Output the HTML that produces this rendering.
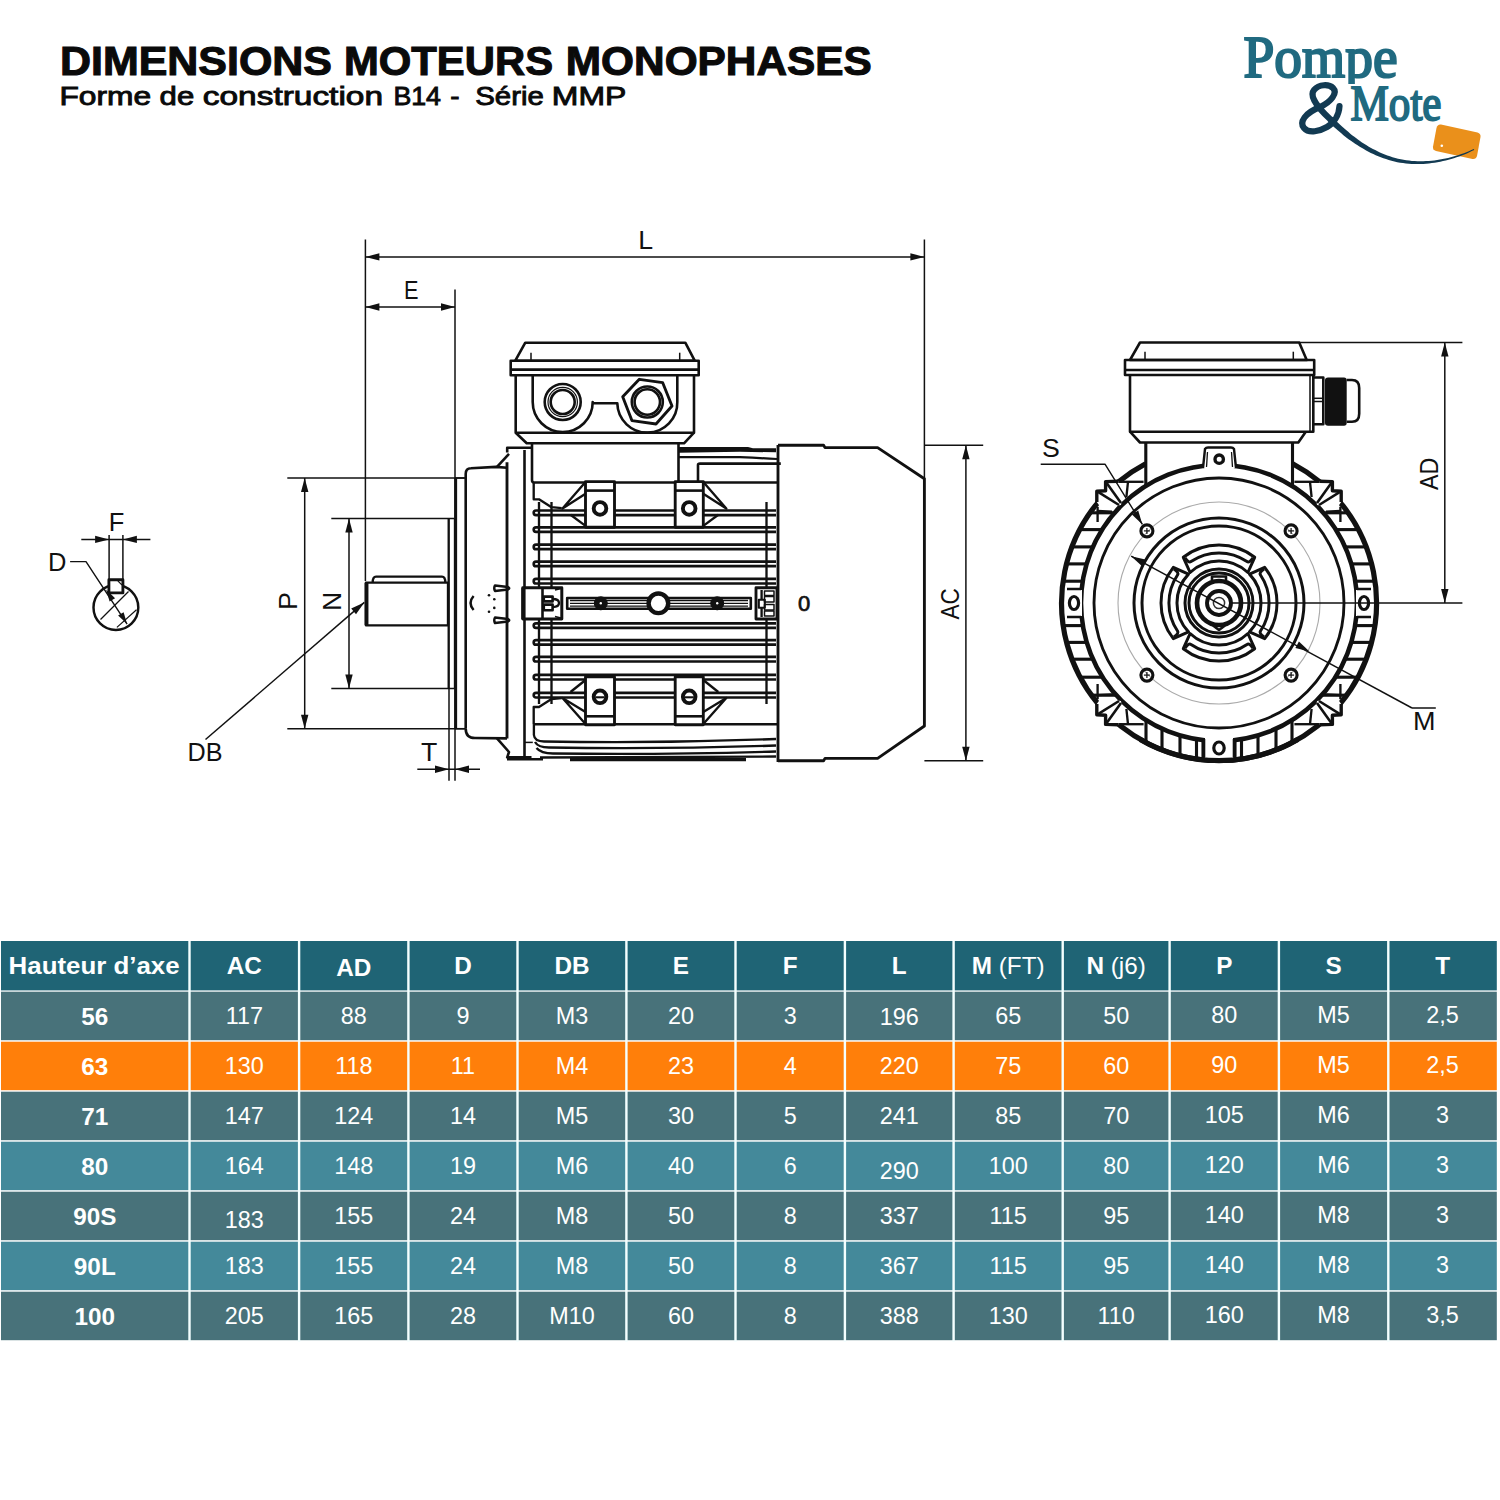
<!DOCTYPE html><html><head><meta charset="utf-8"><style>html,body{margin:0;padding:0;background:#fff;width:1500px;height:1500px;overflow:hidden}svg{display:block}text{font-family:"Liberation Sans",sans-serif}</style></head><body>
<svg width="1500" height="1500" viewBox="0 0 1500 1500">
<text x="60.0" y="74.6" font-size="40.7" font-weight="bold" fill="#0a0a0a" stroke="#0a0a0a" stroke-width="1.1" textLength="272.01" lengthAdjust="spacingAndGlyphs">DIMENSIONS</text>
<text x="344.0" y="74.6" font-size="40.7" font-weight="bold" fill="#0a0a0a" stroke="#0a0a0a" stroke-width="1.1" textLength="209.01" lengthAdjust="spacingAndGlyphs">MOTEURS</text>
<text x="565.8" y="74.6" font-size="40.7" font-weight="bold" fill="#0a0a0a" stroke="#0a0a0a" stroke-width="1.1" textLength="306.01" lengthAdjust="spacingAndGlyphs">MONOPHASES</text>
<text x="59.4" y="105" font-size="26.2" font-weight="normal" fill="#0a0a0a" stroke="#0a0a0a" stroke-width="0.9" textLength="91.64" lengthAdjust="spacingAndGlyphs">Forme</text>
<text x="159.6" y="105" font-size="26.2" font-weight="normal" fill="#0a0a0a" stroke="#0a0a0a" stroke-width="0.9" textLength="34.64" lengthAdjust="spacingAndGlyphs">de</text>
<text x="202.8" y="105" font-size="26.2" font-weight="normal" fill="#0a0a0a" stroke="#0a0a0a" stroke-width="0.9" textLength="180.21" lengthAdjust="spacingAndGlyphs">construction</text>
<text x="393.4" y="105" font-size="26.2" font-weight="normal" fill="#0a0a0a" stroke="#0a0a0a" stroke-width="0.9" textLength="47.61" lengthAdjust="spacingAndGlyphs">B14</text>
<text x="450.2" y="105" font-size="26.2" font-weight="normal" fill="#0a0a0a" stroke="#0a0a0a" stroke-width="0.9" textLength="9.29" lengthAdjust="spacingAndGlyphs">-</text>
<text x="475.2" y="105" font-size="26.2" font-weight="normal" fill="#0a0a0a" stroke="#0a0a0a" stroke-width="0.9" textLength="68.62" lengthAdjust="spacingAndGlyphs">Série</text>
<text x="551.8" y="105" font-size="26.2" font-weight="normal" fill="#0a0a0a" stroke="#0a0a0a" stroke-width="0.9" textLength="74.46" lengthAdjust="spacingAndGlyphs">MMP</text>

<rect x="1" y="941" width="1495.8" height="49.4" fill="#1f6475"/>
<rect x="1" y="991.7" width="1495.8" height="48.5" fill="#48727a"/>
<rect x="1" y="1041.7" width="1495.8" height="48.5" fill="#ff7f0a"/>
<rect x="1" y="1091.7" width="1495.8" height="48.5" fill="#48727a"/>
<rect x="1" y="1141.7" width="1495.8" height="48.5" fill="#44899a"/>
<rect x="1" y="1191.7" width="1495.8" height="48.5" fill="#48727a"/>
<rect x="1" y="1241.7" width="1495.8" height="48.5" fill="#44899a"/>
<rect x="1" y="1291.7" width="1495.8" height="48.5" fill="#48727a"/>
<rect x="188.3" y="941" width="2.4" height="401" fill="#f4ffff"/>
<rect x="297.9" y="941" width="2.4" height="401" fill="#f4ffff"/>
<rect x="407.2" y="941" width="2.4" height="401" fill="#f4ffff"/>
<rect x="516.3" y="941" width="2.4" height="401" fill="#f4ffff"/>
<rect x="625.2" y="941" width="2.4" height="401" fill="#f4ffff"/>
<rect x="734.3" y="941" width="2.4" height="401" fill="#f4ffff"/>
<rect x="843.7" y="941" width="2.4" height="401" fill="#f4ffff"/>
<rect x="952.4" y="941" width="2.4" height="401" fill="#f4ffff"/>
<rect x="1061.5" y="941" width="2.4" height="401" fill="#f4ffff"/>
<rect x="1168.4" y="941" width="2.4" height="401" fill="#f4ffff"/>
<rect x="1277.7" y="941" width="2.4" height="401" fill="#f4ffff"/>
<rect x="1387.1" y="941" width="2.4" height="401" fill="#f4ffff"/>
<text x="8.6" y="973.6" font-size="24.3" font-weight="bold" fill="#fff" textLength="171" lengthAdjust="spacingAndGlyphs">Hauteur d’axe</text>
<text x="244.3" y="973.6" font-size="24.3" font-weight="bold" fill="#fff" text-anchor="middle">AC</text>
<text x="353.75" y="976" font-size="24.3" font-weight="bold" fill="#fff" text-anchor="middle">AD</text>
<text x="462.95" y="973.6" font-size="24.3" font-weight="bold" fill="#fff" text-anchor="middle">D</text>
<text x="571.95" y="973.6" font-size="24.3" font-weight="bold" fill="#fff" text-anchor="middle">DB</text>
<text x="680.95" y="973.6" font-size="24.3" font-weight="bold" fill="#fff" text-anchor="middle">E</text>
<text x="790.2" y="973.6" font-size="24.3" font-weight="bold" fill="#fff" text-anchor="middle">F</text>
<text x="899.25" y="973.6" font-size="24.3" font-weight="bold" fill="#fff" text-anchor="middle">L</text>
<text x="1008.1500000000001" y="973.6" font-size="24.3" fill="#fff" text-anchor="middle"><tspan font-weight="bold">M</tspan> (FT)</text>
<text x="1116.15" y="973.6" font-size="24.3" fill="#fff" text-anchor="middle"><tspan font-weight="bold">N</tspan> (j6)</text>
<text x="1224.25" y="973.6" font-size="24.3" font-weight="bold" fill="#fff" text-anchor="middle">P</text>
<text x="1333.6" y="973.6" font-size="24.3" font-weight="bold" fill="#fff" text-anchor="middle">S</text>
<text x="1442.55" y="973.6" font-size="24.3" font-weight="bold" fill="#fff" text-anchor="middle">T</text>
<text x="94.8" y="1025.4" font-size="24.3" font-weight="bold" fill="#fff" text-anchor="middle">56</text>
<text x="244.3" y="1024.4" font-size="23.4" fill="#fff" text-anchor="middle">117</text>
<text x="353.8" y="1024.4" font-size="23.4" fill="#fff" text-anchor="middle">88</text>
<text x="462.9" y="1024.4" font-size="23.4" fill="#fff" text-anchor="middle">9</text>
<text x="572.0" y="1024.4" font-size="23.4" fill="#fff" text-anchor="middle">M3</text>
<text x="681.0" y="1024.4" font-size="23.4" fill="#fff" text-anchor="middle">20</text>
<text x="790.2" y="1024.4" font-size="23.4" fill="#fff" text-anchor="middle">3</text>
<text x="899.2" y="1024.9" font-size="23.4" fill="#fff" text-anchor="middle">196</text>
<text x="1008.2" y="1024.4" font-size="23.4" fill="#fff" text-anchor="middle">65</text>
<text x="1116.2" y="1024.4" font-size="23.4" fill="#fff" text-anchor="middle">50</text>
<text x="1224.2" y="1022.9" font-size="23.4" fill="#fff" text-anchor="middle">80</text>
<text x="1333.6" y="1022.9" font-size="23.4" fill="#fff" text-anchor="middle">M5</text>
<text x="1442.5" y="1022.9" font-size="23.4" fill="#fff" text-anchor="middle">2,5</text>
<text x="94.8" y="1075.4" font-size="24.3" font-weight="bold" fill="#fff" text-anchor="middle">63</text>
<text x="244.3" y="1074.4" font-size="23.4" fill="#fff" text-anchor="middle">130</text>
<text x="353.8" y="1074.4" font-size="23.4" fill="#fff" text-anchor="middle">118</text>
<text x="462.9" y="1074.4" font-size="23.4" fill="#fff" text-anchor="middle">11</text>
<text x="572.0" y="1074.4" font-size="23.4" fill="#fff" text-anchor="middle">M4</text>
<text x="681.0" y="1074.4" font-size="23.4" fill="#fff" text-anchor="middle">23</text>
<text x="790.2" y="1074.4" font-size="23.4" fill="#fff" text-anchor="middle">4</text>
<text x="899.2" y="1074.4" font-size="23.4" fill="#fff" text-anchor="middle">220</text>
<text x="1008.2" y="1074.4" font-size="23.4" fill="#fff" text-anchor="middle">75</text>
<text x="1116.2" y="1074.4" font-size="23.4" fill="#fff" text-anchor="middle">60</text>
<text x="1224.2" y="1072.9" font-size="23.4" fill="#fff" text-anchor="middle">90</text>
<text x="1333.6" y="1072.9" font-size="23.4" fill="#fff" text-anchor="middle">M5</text>
<text x="1442.5" y="1072.9" font-size="23.4" fill="#fff" text-anchor="middle">2,5</text>
<text x="94.8" y="1125.4" font-size="24.3" font-weight="bold" fill="#fff" text-anchor="middle">71</text>
<text x="244.3" y="1124.4" font-size="23.4" fill="#fff" text-anchor="middle">147</text>
<text x="353.8" y="1124.4" font-size="23.4" fill="#fff" text-anchor="middle">124</text>
<text x="462.9" y="1124.4" font-size="23.4" fill="#fff" text-anchor="middle">14</text>
<text x="572.0" y="1124.4" font-size="23.4" fill="#fff" text-anchor="middle">M5</text>
<text x="681.0" y="1124.4" font-size="23.4" fill="#fff" text-anchor="middle">30</text>
<text x="790.2" y="1124.4" font-size="23.4" fill="#fff" text-anchor="middle">5</text>
<text x="899.2" y="1124.4" font-size="23.4" fill="#fff" text-anchor="middle">241</text>
<text x="1008.2" y="1124.4" font-size="23.4" fill="#fff" text-anchor="middle">85</text>
<text x="1116.2" y="1124.4" font-size="23.4" fill="#fff" text-anchor="middle">70</text>
<text x="1224.2" y="1122.9" font-size="23.4" fill="#fff" text-anchor="middle">105</text>
<text x="1333.6" y="1122.9" font-size="23.4" fill="#fff" text-anchor="middle">M6</text>
<text x="1442.5" y="1122.9" font-size="23.4" fill="#fff" text-anchor="middle">3</text>
<text x="94.8" y="1175.4" font-size="24.3" font-weight="bold" fill="#fff" text-anchor="middle">80</text>
<text x="244.3" y="1174.4" font-size="23.4" fill="#fff" text-anchor="middle">164</text>
<text x="353.8" y="1174.4" font-size="23.4" fill="#fff" text-anchor="middle">148</text>
<text x="462.9" y="1174.4" font-size="23.4" fill="#fff" text-anchor="middle">19</text>
<text x="572.0" y="1174.4" font-size="23.4" fill="#fff" text-anchor="middle">M6</text>
<text x="681.0" y="1174.4" font-size="23.4" fill="#fff" text-anchor="middle">40</text>
<text x="790.2" y="1174.4" font-size="23.4" fill="#fff" text-anchor="middle">6</text>
<text x="899.2" y="1179.4" font-size="23.4" fill="#fff" text-anchor="middle">290</text>
<text x="1008.2" y="1174.4" font-size="23.4" fill="#fff" text-anchor="middle">100</text>
<text x="1116.2" y="1174.4" font-size="23.4" fill="#fff" text-anchor="middle">80</text>
<text x="1224.2" y="1172.9" font-size="23.4" fill="#fff" text-anchor="middle">120</text>
<text x="1333.6" y="1172.9" font-size="23.4" fill="#fff" text-anchor="middle">M6</text>
<text x="1442.5" y="1172.9" font-size="23.4" fill="#fff" text-anchor="middle">3</text>
<text x="94.8" y="1225.4" font-size="24.3" font-weight="bold" fill="#fff" text-anchor="middle">90S</text>
<text x="244.3" y="1227.9" font-size="23.4" fill="#fff" text-anchor="middle">183</text>
<text x="353.8" y="1224.4" font-size="23.4" fill="#fff" text-anchor="middle">155</text>
<text x="462.9" y="1224.4" font-size="23.4" fill="#fff" text-anchor="middle">24</text>
<text x="572.0" y="1224.4" font-size="23.4" fill="#fff" text-anchor="middle">M8</text>
<text x="681.0" y="1224.4" font-size="23.4" fill="#fff" text-anchor="middle">50</text>
<text x="790.2" y="1224.4" font-size="23.4" fill="#fff" text-anchor="middle">8</text>
<text x="899.2" y="1224.4" font-size="23.4" fill="#fff" text-anchor="middle">337</text>
<text x="1008.2" y="1224.4" font-size="23.4" fill="#fff" text-anchor="middle">115</text>
<text x="1116.2" y="1224.4" font-size="23.4" fill="#fff" text-anchor="middle">95</text>
<text x="1224.2" y="1222.9" font-size="23.4" fill="#fff" text-anchor="middle">140</text>
<text x="1333.6" y="1222.9" font-size="23.4" fill="#fff" text-anchor="middle">M8</text>
<text x="1442.5" y="1222.9" font-size="23.4" fill="#fff" text-anchor="middle">3</text>
<text x="94.8" y="1275.4" font-size="24.3" font-weight="bold" fill="#fff" text-anchor="middle">90L</text>
<text x="244.3" y="1274.4" font-size="23.4" fill="#fff" text-anchor="middle">183</text>
<text x="353.8" y="1274.4" font-size="23.4" fill="#fff" text-anchor="middle">155</text>
<text x="462.9" y="1274.4" font-size="23.4" fill="#fff" text-anchor="middle">24</text>
<text x="572.0" y="1274.4" font-size="23.4" fill="#fff" text-anchor="middle">M8</text>
<text x="681.0" y="1274.4" font-size="23.4" fill="#fff" text-anchor="middle">50</text>
<text x="790.2" y="1274.4" font-size="23.4" fill="#fff" text-anchor="middle">8</text>
<text x="899.2" y="1274.4" font-size="23.4" fill="#fff" text-anchor="middle">367</text>
<text x="1008.2" y="1274.4" font-size="23.4" fill="#fff" text-anchor="middle">115</text>
<text x="1116.2" y="1274.4" font-size="23.4" fill="#fff" text-anchor="middle">95</text>
<text x="1224.2" y="1272.9" font-size="23.4" fill="#fff" text-anchor="middle">140</text>
<text x="1333.6" y="1272.9" font-size="23.4" fill="#fff" text-anchor="middle">M8</text>
<text x="1442.5" y="1272.9" font-size="23.4" fill="#fff" text-anchor="middle">3</text>
<text x="94.8" y="1325.4" font-size="24.3" font-weight="bold" fill="#fff" text-anchor="middle">100</text>
<text x="244.3" y="1324.4" font-size="23.4" fill="#fff" text-anchor="middle">205</text>
<text x="353.8" y="1324.4" font-size="23.4" fill="#fff" text-anchor="middle">165</text>
<text x="462.9" y="1324.4" font-size="23.4" fill="#fff" text-anchor="middle">28</text>
<text x="572.0" y="1324.4" font-size="23.4" fill="#fff" text-anchor="middle">M10</text>
<text x="681.0" y="1324.4" font-size="23.4" fill="#fff" text-anchor="middle">60</text>
<text x="790.2" y="1324.4" font-size="23.4" fill="#fff" text-anchor="middle">8</text>
<text x="899.2" y="1324.4" font-size="23.4" fill="#fff" text-anchor="middle">388</text>
<text x="1008.2" y="1324.4" font-size="23.4" fill="#fff" text-anchor="middle">130</text>
<text x="1116.2" y="1324.4" font-size="23.4" fill="#fff" text-anchor="middle">110</text>
<text x="1224.2" y="1322.9" font-size="23.4" fill="#fff" text-anchor="middle">160</text>
<text x="1333.6" y="1322.9" font-size="23.4" fill="#fff" text-anchor="middle">M8</text>
<text x="1442.5" y="1322.9" font-size="23.4" fill="#fff" text-anchor="middle">3,5</text>
<line x1="365.4" y1="239.5" x2="365.4" y2="581.0" stroke="#111" stroke-width="1.5"/>
<line x1="924.4" y1="239.5" x2="924.4" y2="479.0" stroke="#111" stroke-width="1.5"/>
<line x1="365.4" y1="256.9" x2="924.4" y2="256.9" stroke="#111" stroke-width="1.5"/>
<path d="M365.4,256.9 L379.4,253.2 L379.4,260.6 Z" fill="#111"/>
<path d="M924.4,256.9 L910.4,260.6 L910.4,253.2 Z" fill="#111"/>
<text x="638.2" y="249" font-size="26.7" fill="#111" text-anchor="start" >L</text>
<line x1="455.0" y1="289.4" x2="455.0" y2="780.7" stroke="#111" stroke-width="1.5"/>
<line x1="365.4" y1="307.0" x2="455.0" y2="307.0" stroke="#111" stroke-width="1.5"/>
<path d="M365.4,307.0 L379.4,303.3 L379.4,310.7 Z" fill="#111"/>
<path d="M455.0,307.0 L441.0,310.7 L441.0,303.3 Z" fill="#111"/>
<text x="404" y="299.2" font-size="26.7" fill="#111" text-anchor="start" textLength="14.5" lengthAdjust="spacingAndGlyphs" >E</text>
<line x1="287.3" y1="478.0" x2="464.7" y2="478.0" stroke="#111" stroke-width="1.5"/>
<line x1="287.3" y1="728.7" x2="464.7" y2="728.7" stroke="#111" stroke-width="1.5"/>
<line x1="304.7" y1="478.0" x2="304.7" y2="728.7" stroke="#111" stroke-width="1.5"/>
<path d="M304.7,478.0 L308.4,492.0 L301.0,492.0 Z" fill="#111"/>
<path d="M304.7,728.7 L301.0,714.7 L308.4,714.7 Z" fill="#111"/>
<line x1="331.3" y1="518.4" x2="454.0" y2="518.4" stroke="#111" stroke-width="1.5"/>
<line x1="331.3" y1="688.4" x2="454.7" y2="688.4" stroke="#111" stroke-width="1.5"/>
<line x1="349.0" y1="518.4" x2="349.0" y2="688.4" stroke="#111" stroke-width="1.5"/>
<path d="M349.0,518.4 L352.7,532.4 L345.3,532.4 Z" fill="#111"/>
<path d="M349.0,688.4 L345.3,674.4 L352.7,674.4 Z" fill="#111"/>
<text x="297" y="610" font-size="26.7" fill="#111" text-anchor="start" transform="rotate(-90 297 610)" >P</text>
<text x="341" y="611" font-size="26.7" fill="#111" text-anchor="start" transform="rotate(-90 341 611)" >N</text>
<line x1="449.0" y1="688.4" x2="449.0" y2="780.7" stroke="#111" stroke-width="1.5"/>
<line x1="417.3" y1="769.3" x2="480.0" y2="769.3" stroke="#111" stroke-width="1.5"/>
<path d="M449.0,769.3 L435.0,773.0 L435.0,765.6 Z" fill="#111"/>
<path d="M455.0,769.3 L469.0,765.6 L469.0,773.0 Z" fill="#111"/>
<text x="421" y="761.3" font-size="26.7" fill="#111" text-anchor="start" >T</text>
<line x1="205.5" y1="739.5" x2="364.3" y2="602.4" stroke="#111" stroke-width="1.5"/>
<path d="M364.3,602.4 L356.0,614.3 L351.2,608.6 Z" fill="#111"/>
<text x="187.5" y="760.5" font-size="26.7" fill="#111" text-anchor="start" textLength="35" lengthAdjust="spacingAndGlyphs" >DB</text>
<path d="M366,582.7 L448,582.7 L448,625.3 L366,625.3 Z" fill="none" stroke="#111" stroke-width="2.3400000000000003" stroke-linejoin="round" />
<line x1="366.5" y1="582.7" x2="366.5" y2="625.3" stroke="#111" stroke-width="3.9000000000000004"/>
<path d="M372.7,582.7 Q372.7,576.7 376,576.7 L442,576.7 Q445.3,576.7 445.3,582.7" fill="none" stroke="#111" stroke-width="2.3400000000000003" stroke-linejoin="round" />
<line x1="448.7" y1="518.4" x2="448.7" y2="688.4" stroke="#111" stroke-width="2.3400000000000003"/>
<line x1="455.0" y1="518.4" x2="455.0" y2="688.4" stroke="#111" stroke-width="2.3400000000000003"/>
<path d="M465.7,728.7 L465.7,474 Q465.7,468.3 471,468.3 L496,466.9 L507,467.8" fill="none" stroke="#111" stroke-width="2.6" stroke-linejoin="round" />
<line x1="497.0" y1="466.9" x2="509.0" y2="453.8" stroke="#111" stroke-width="2.6"/>
<path d="M507.2,452.4 L507.2,447.7 L531.5,447.7" fill="none" stroke="#111" stroke-width="2.6" stroke-linejoin="round" />
<line x1="507.0" y1="462.2" x2="507.0" y2="738.4" stroke="#111" stroke-width="2.8600000000000003"/>
<path d="M465.7,728.7 Q465.7,738 475,738 L507,738.4" fill="none" stroke="#111" stroke-width="2.6" stroke-linejoin="round" />
<path d="M497,738.4 L509,752 L507.2,757.3 L531.5,757.3" fill="none" stroke="#111" stroke-width="2.6" stroke-linejoin="round" />
<line x1="524.5" y1="450.0" x2="524.5" y2="757.3" stroke="#111" stroke-width="2.6"/>
<line x1="455.7" y1="478.0" x2="455.7" y2="728.7" stroke="#111" stroke-width="2.8600000000000003"/>
<line x1="455.0" y1="728.7" x2="465.7" y2="728.7" stroke="#111" stroke-width="1.5"/>
<line x1="455.0" y1="478.0" x2="465.7" y2="478.0" stroke="#111" stroke-width="1.5"/>
<path d="M495,585.4000000000001 L508,587.0 Q510.5,588.2 508,589.4000000000001 L495,591.0 Q493.5,588.2 495,585.4000000000001 Z" fill="none" stroke="#111" stroke-width="2.4699999999999998" stroke-linejoin="round" />
<path d="M495,617.5 L508,619.0999999999999 Q510.5,620.3 508,621.5 L495,623.0999999999999 Q493.5,620.3 495,617.5 Z" fill="none" stroke="#111" stroke-width="2.4699999999999998" stroke-linejoin="round" />
<path d="M473.6,596 Q467.5,603 473.6,610" fill="none" stroke="#111" stroke-width="2.4699999999999998" stroke-linejoin="round" />
<circle cx="489.0" cy="595.2" r="1.3" fill="#111" stroke="#111" stroke-width="0"/>
<circle cx="494.3" cy="599.2" r="1.3" fill="#111" stroke="#111" stroke-width="0"/>
<circle cx="494.3" cy="607.9" r="1.3" fill="#111" stroke="#111" stroke-width="0"/>
<circle cx="489.0" cy="611.8" r="1.3" fill="#111" stroke="#111" stroke-width="0"/>
<path d="M525.3,342.7 L685.3,342.7 L694.7,360.7 L515.3,360.7 Z" fill="none" stroke="#111" stroke-width="2.6" stroke-linejoin="round" />
<path d="M510.7,360.7 L698.7,360.7 L698.7,375.3 L510.7,375.3 Z" fill="none" stroke="#111" stroke-width="2.6" stroke-linejoin="round" />
<line x1="510.7" y1="369.6" x2="698.7" y2="369.6" stroke="#111" stroke-width="2.6"/>
<line x1="531.0" y1="352.7" x2="531.0" y2="360.7" stroke="#111" stroke-width="1.5"/>
<line x1="679.7" y1="352.7" x2="679.7" y2="360.7" stroke="#111" stroke-width="1.5"/>
<path d="M515.7,375.3 L515.7,432.7 L694,432.7 L694,375.3" fill="none" stroke="#111" stroke-width="2.6" stroke-linejoin="round" />
<path d="M515.7,432.7 L526.7,443.3 L684,443.3 L694,432.7" fill="none" stroke="#111" stroke-width="2.6" stroke-linejoin="round" />
<path d="M532.7,375.3 L532.7,402 A30,30 0 0 0 592.7,402 L593.3,403.3 L617.3,403.3 A30,30 0 0 0 677.3,402 L677.3,375.3" fill="none" stroke="#111" stroke-width="2.6" stroke-linejoin="round" />
<circle cx="562.7" cy="402.0" r="18.0" fill="none" stroke="#111" stroke-width="2.6"/>
<circle cx="562.7" cy="402.0" r="14.7" fill="none" stroke="#111" stroke-width="1.2"/>
<circle cx="562.7" cy="402.0" r="12.0" fill="none" stroke="#111" stroke-width="2.6"/>
<path d="M639.3,379.3 L662.7,382.7 L672,406 L656,424 L632,420.7 L622.7,396.7 Z" fill="none" stroke="#111" stroke-width="2.8600000000000003" stroke-linejoin="round" />
<circle cx="647.3" cy="402.0" r="15.5" fill="none" stroke="#111" stroke-width="2.6"/>
<circle cx="647.3" cy="402.0" r="12.7" fill="none" stroke="#111" stroke-width="2.6"/>
<line x1="532.0" y1="443.3" x2="532.0" y2="480.0" stroke="#111" stroke-width="2.6"/>
<path d="M532,480 Q532,482.5 534,482.5" fill="none" stroke="#111" stroke-width="2.6" stroke-linejoin="round" />
<line x1="678.5" y1="443.3" x2="678.5" y2="482.3" stroke="#111" stroke-width="2.6"/>
<path d="M679,447 L748,447 L753,448.3 L776,448.3 L776,452.3 L740,451.8 L679,452.8 Z" fill="#111"/>
<path d="M679,457.1 L740,457.1 Q760,458 777,459" fill="none" stroke="#111" stroke-width="2.21" stroke-linejoin="round" />
<path d="M698,481.6 L698,465 Q698,463.6 700,463.6 L780.8,463.6" fill="none" stroke="#111" stroke-width="2.6" stroke-linejoin="round" />
<line x1="533.6" y1="482.5" x2="777.3" y2="482.5" stroke="#111" stroke-width="2.6"/>
<line x1="533.3" y1="724.3" x2="777.3" y2="724.3" stroke="#111" stroke-width="2.6"/>
<line x1="778.0" y1="445.0" x2="778.0" y2="762.0" stroke="#111" stroke-width="2.8600000000000003"/>
<path d="M536,510.5 L776,510.5 M536,515.1 L776,515.1 M536,510.5 A2.3,2.3 0 0 0 536,515.1" fill="none" stroke="#111" stroke-width="2.665" stroke-linejoin="round" />
<path d="M536,527.3 L776,527.3 M536,531.9 L776,531.9 M536,527.3 A2.3,2.3 0 0 0 536,531.9" fill="none" stroke="#111" stroke-width="2.665" stroke-linejoin="round" />
<path d="M536,544.6 L776,544.6 M536,549.2 L776,549.2 M536,544.6 A2.3,2.3 0 0 0 536,549.2" fill="none" stroke="#111" stroke-width="2.665" stroke-linejoin="round" />
<path d="M536,561.6 L776,561.6 M536,566.2 L776,566.2 M536,561.6 A2.3,2.3 0 0 0 536,566.2" fill="none" stroke="#111" stroke-width="2.665" stroke-linejoin="round" />
<path d="M536,578.9 L776,578.9 M536,583.5 L776,583.5 M536,578.9 A2.3,2.3 0 0 0 536,583.5" fill="none" stroke="#111" stroke-width="2.665" stroke-linejoin="round" />
<path d="M536,623.3 L776,623.3 M536,627.9 L776,627.9 M536,623.3 A2.3,2.3 0 0 0 536,627.9" fill="none" stroke="#111" stroke-width="2.665" stroke-linejoin="round" />
<path d="M536,640.1 L776,640.1 M536,644.7 L776,644.7 M536,640.1 A2.3,2.3 0 0 0 536,644.7" fill="none" stroke="#111" stroke-width="2.665" stroke-linejoin="round" />
<path d="M536,656.9 L776,656.9 M536,661.5 L776,661.5 M536,656.9 A2.3,2.3 0 0 0 536,661.5" fill="none" stroke="#111" stroke-width="2.665" stroke-linejoin="round" />
<path d="M536,674.9 L776,674.9 M536,679.5 L776,679.5 M536,674.9 A2.3,2.3 0 0 0 536,679.5" fill="none" stroke="#111" stroke-width="2.665" stroke-linejoin="round" />
<path d="M536,692.9 L776,692.9 M536,697.5 L776,697.5 M536,692.9 A2.3,2.3 0 0 0 536,697.5" fill="none" stroke="#111" stroke-width="2.665" stroke-linejoin="round" />
<line x1="539.0" y1="502.0" x2="539.0" y2="704.0" stroke="#111" stroke-width="2.3400000000000003"/>
<line x1="551.5" y1="502.0" x2="551.5" y2="704.0" stroke="#111" stroke-width="2.3400000000000003"/>
<line x1="766.5" y1="502.0" x2="766.5" y2="704.0" stroke="#111" stroke-width="2.3400000000000003"/>
<path d="M533.7,482.5 L533.7,499.3 L539,499.3 L551.5,507.2 L561.7,508.1" fill="none" stroke="#111" stroke-width="2.3400000000000003" stroke-linejoin="round" />
<path d="M533.7,724.3 L533.7,707 L539,707 L551.5,699 L561.7,698" fill="none" stroke="#111" stroke-width="2.3400000000000003" stroke-linejoin="round" />
<path d="M585.5,481.6 L614.5,481.6 L614.5,527.3 L585.5,527.3 Z" fill="#fff" stroke="#111" stroke-width="2.8600000000000003" stroke-linejoin="round" />
<line x1="585.5" y1="490.6" x2="614.5" y2="490.6" stroke="#111" stroke-width="2.6"/>
<circle cx="600.0" cy="508.4" r="6.3" fill="none" stroke="#111" stroke-width="3.9000000000000004"/>
<path d="M585.5,676.8 L614.5,676.8 L614.5,724.8 L585.5,724.8 Z" fill="#fff" stroke="#111" stroke-width="2.8600000000000003" stroke-linejoin="round" />
<line x1="585.5" y1="716.3" x2="614.5" y2="716.3" stroke="#111" stroke-width="2.6"/>
<circle cx="600.0" cy="696.8" r="6.3" fill="none" stroke="#111" stroke-width="3.9000000000000004"/>
<line x1="595.5" y1="697.3" x2="604.5" y2="697.3" stroke="#111" stroke-width="2.08"/>
<path d="M675.2,481.6 L703.3,481.6 L703.3,527.3 L675.2,527.3 Z" fill="#fff" stroke="#111" stroke-width="2.8600000000000003" stroke-linejoin="round" />
<line x1="675.2" y1="490.6" x2="703.3" y2="490.6" stroke="#111" stroke-width="2.6"/>
<circle cx="689.2" cy="508.4" r="6.3" fill="none" stroke="#111" stroke-width="3.9000000000000004"/>
<path d="M675.2,676.8 L703.3,676.8 L703.3,724.8 L675.2,724.8 Z" fill="#fff" stroke="#111" stroke-width="2.8600000000000003" stroke-linejoin="round" />
<line x1="675.2" y1="716.3" x2="703.3" y2="716.3" stroke="#111" stroke-width="2.6"/>
<circle cx="689.2" cy="696.8" r="6.3" fill="none" stroke="#111" stroke-width="3.9000000000000004"/>
<line x1="684.8" y1="697.3" x2="693.8" y2="697.3" stroke="#111" stroke-width="2.08"/>
<path d="M585.5,482 L562.5,508.6 L585.5,493.7" fill="none" stroke="#111" stroke-width="2.3400000000000003" stroke-linejoin="round" />
<path d="M570.5,514.7 L585.5,525.9" fill="none" stroke="#111" stroke-width="2.3400000000000003" stroke-linejoin="round" />
<path d="M585.5,724 L562.5,698 L585.5,712" fill="none" stroke="#111" stroke-width="2.3400000000000003" stroke-linejoin="round" />
<path d="M570.5,692 L585.5,680" fill="none" stroke="#111" stroke-width="2.3400000000000003" stroke-linejoin="round" />
<path d="M703.3,482 L726.3,508.6 L703.3,493.7" fill="none" stroke="#111" stroke-width="2.3400000000000003" stroke-linejoin="round" />
<path d="M718.3,514.7 L703.3,525.9" fill="none" stroke="#111" stroke-width="2.3400000000000003" stroke-linejoin="round" />
<path d="M703.3,724 L726.3,698 L703.3,712" fill="none" stroke="#111" stroke-width="2.3400000000000003" stroke-linejoin="round" />
<path d="M718.3,692 L703.3,680" fill="none" stroke="#111" stroke-width="2.3400000000000003" stroke-linejoin="round" />
<path d="M533.9,724.3 L533.9,735 Q534.5,741.5 544,741.5 Q660,743.5 776,739" fill="none" stroke="#111" stroke-width="2.3400000000000003" stroke-linejoin="round" />
<path d="M535,742 Q538,747.5 549,747.5 Q660,749.5 776,745.5" fill="none" stroke="#111" stroke-width="2.3400000000000003" stroke-linejoin="round" />
<path d="M536.5,748 Q541,753.5 553,753.5 Q660,755 776,751.5" fill="none" stroke="#111" stroke-width="2.3400000000000003" stroke-linejoin="round" />
<line x1="540.0" y1="757.5" x2="776.0" y2="756.5" stroke="#111" stroke-width="2.3400000000000003"/>
<line x1="507.0" y1="759.3" x2="543.0" y2="759.3" stroke="#111" stroke-width="2.6"/>
<line x1="570.0" y1="759.6" x2="746.0" y2="759.6" stroke="#111" stroke-width="3.12"/>
<line x1="525.0" y1="742.4" x2="532.8" y2="742.4" stroke="#111" stroke-width="1.5"/>
<path d="M522.8,587.8 L561.8,587.8 L561.8,619 L522.8,619 Z" fill="#fff" stroke="#111" stroke-width="2.9899999999999998" stroke-linejoin="round" />
<line x1="523.5" y1="587.8" x2="523.5" y2="619.0" stroke="#111" stroke-width="4.16"/>
<line x1="542.5" y1="587.8" x2="542.5" y2="619.0" stroke="#111" stroke-width="2.6"/>
<path d="M543.8,596.6 L552.6,596.6 L552.6,601.4 L543.8,601.4 Z M543.8,604.6 L552.6,604.6 L552.6,610.2 L543.8,610.2 Z" fill="none" stroke="#111" stroke-width="2.6" stroke-linejoin="round" />
<path d="M552.6,599 Q559,599 559,603 Q559,607 552.6,607" fill="none" stroke="#111" stroke-width="2.3400000000000003" stroke-linejoin="round" />
<line x1="555.0" y1="590.0" x2="561.0" y2="588.5" stroke="#111" stroke-width="1.3"/>
<line x1="555.0" y1="616.5" x2="561.0" y2="618.0" stroke="#111" stroke-width="1.3"/>
<path d="M567.2,598 L750.8,598 L750.8,608.8 L567.2,608.8 Z" fill="none" stroke="#111" stroke-width="2.6" stroke-linejoin="round" />
<path d="M570,600.5 L748,600.5 M570,603.3 L748,603.3 M570,606.1 L748,606.1" fill="none" stroke="#111" stroke-width="1.3" stroke-linejoin="round" />
<circle cx="658.4" cy="603.3" r="9.8" fill="#fff" stroke="#111" stroke-width="4.42"/>
<circle cx="600.8" cy="603.3" r="6.5" fill="#111" stroke="#111" stroke-width="1"/>
<circle cx="600.8" cy="603.3" r="1.2" fill="#fff" stroke="#111" stroke-width="0"/>
<circle cx="717.2" cy="603.3" r="6.5" fill="#111" stroke="#111" stroke-width="1"/>
<circle cx="717.2" cy="603.3" r="1.2" fill="#fff" stroke="#111" stroke-width="0"/>
<path d="M756,587.8 L777,587.8 L777,619 L756,619 Z" fill="#fff" stroke="#111" stroke-width="2.8600000000000003" stroke-linejoin="round" />
<line x1="761.6" y1="590.0" x2="761.6" y2="617.0" stroke="#111" stroke-width="2.3400000000000003"/>
<path d="M758.8,599.8 L764.8,599.8 L764.8,607.8 L758.8,607.8 Z" fill="#fff" stroke="#111" stroke-width="2.08" stroke-linejoin="round" />
<path d="M764.5,591 L774,591 L774,595.5 L764.5,595.5 Z" fill="none" stroke="#111" stroke-width="1.5" stroke-linejoin="round" />
<path d="M764.5,596.5 L774,596.5 L774,602 L764.5,602 Z" fill="none" stroke="#111" stroke-width="1.5" stroke-linejoin="round" />
<path d="M764.5,604.6 L774,604.6 L774,610 L764.5,610 Z" fill="none" stroke="#111" stroke-width="1.5" stroke-linejoin="round" />
<path d="M764.5,611 L774,611 L774,616 L764.5,616 Z" fill="none" stroke="#111" stroke-width="1.5" stroke-linejoin="round" />
<path d="M778,445.2 L823.6,445.2 L825,447.6 L877.6,447.6 L924.4,478.8 L924.4,726 L877.6,758.4 L825,758.4 L823.6,760.8 L778,760.8" fill="none" stroke="#111" stroke-width="2.8600000000000003" stroke-linejoin="round" />
<text x="798" y="611" font-size="22" fill="#111" text-anchor="start" stroke="#111" stroke-width="0.7">0</text>
<line x1="924.4" y1="445.2" x2="983.2" y2="445.2" stroke="#111" stroke-width="1.5"/>
<line x1="924.4" y1="760.8" x2="983.2" y2="760.8" stroke="#111" stroke-width="1.5"/>
<line x1="965.9" y1="445.2" x2="965.9" y2="760.8" stroke="#111" stroke-width="1.5"/>
<path d="M965.9,445.2 L969.6,459.2 L962.2,459.2 Z" fill="#111"/>
<path d="M965.9,760.8 L962.2,746.8 L969.6,746.8 Z" fill="#111"/>
<text x="959.2" y="619.5" font-size="26.7" fill="#111" text-anchor="start" transform="rotate(-90 959.2 619.5)" textLength="31.5" lengthAdjust="spacingAndGlyphs" >AC</text>
<circle cx="115.9" cy="607.5" r="22.4" fill="none" stroke="#111" stroke-width="2.4699999999999998"/>
<path d="M108.9,579.8 L122.9,579.8 L122.9,592.9 L108.9,592.9 Z" fill="#fff" stroke="#111" stroke-width="2.8600000000000003" stroke-linejoin="round" />
<line x1="109.1" y1="535.0" x2="109.1" y2="579.8" stroke="#111" stroke-width="1.5"/>
<line x1="122.9" y1="535.0" x2="122.9" y2="579.8" stroke="#111" stroke-width="1.5"/>
<line x1="81.3" y1="539.4" x2="150.4" y2="539.4" stroke="#111" stroke-width="1.5"/>
<path d="M109.1,539.4 L95.1,543.1 L95.1,535.7 Z" fill="#111"/>
<path d="M122.9,539.4 L136.9,535.7 L136.9,543.1 Z" fill="#111"/>
<text x="108.7" y="530.8" font-size="25.5" fill="#111" text-anchor="start" >F</text>
<text x="48" y="570.9" font-size="25.5" fill="#111" text-anchor="start" >D</text>
<path d="M70.1,561.6 L86,561.6 L127.1,624.1" fill="none" stroke="#111" stroke-width="1.4" stroke-linejoin="round" />
<path d="M106.1,589.6 L115.1,598.2 L109.6,601.5 Z" fill="#111"/>
<path d="M127.1,624.1 L118.1,615.5 L123.6,612.2 Z" fill="#111"/>
<line x1="100.5" y1="619.5" x2="128.5" y2="591.5" stroke="#111" stroke-width="1.2"/>
<line x1="116.9" y1="627.4" x2="136.5" y2="609.7" stroke="#111" stroke-width="1.2"/>
<line x1="117.8" y1="580.8" x2="122.0" y2="585.0" stroke="#111" stroke-width="1.1"/>
<path d="M1145.8,442.5 L1292.5,442.5 L1292.5,482 L1145.8,482 Z" fill="#fff"/>
<path d="M1292.7,463.8 A157.5,157.5 0 1 1 1145.6,463.7" fill="none" stroke="#111" stroke-width="5.20"/>
<circle cx="1219.0" cy="603.0" r="138.0" fill="none" stroke="#111" stroke-width="4.55"/>
<line x1="1113.9" y1="512.8" x2="1090.5" y2="512.8" stroke="#111" stroke-width="3.12"/>
<line x1="1324.1" y1="512.8" x2="1347.5" y2="512.8" stroke="#111" stroke-width="3.12"/>
<line x1="1101.5" y1="529.6" x2="1080.2" y2="529.6" stroke="#111" stroke-width="3.12"/>
<line x1="1336.5" y1="529.6" x2="1357.8" y2="529.6" stroke="#111" stroke-width="3.12"/>
<line x1="1092.4" y1="546.9" x2="1072.4" y2="546.9" stroke="#111" stroke-width="3.12"/>
<line x1="1345.6" y1="546.9" x2="1365.6" y2="546.9" stroke="#111" stroke-width="3.12"/>
<line x1="1086.1" y1="563.9" x2="1066.9" y2="563.9" stroke="#111" stroke-width="3.12"/>
<line x1="1351.9" y1="563.9" x2="1371.1" y2="563.9" stroke="#111" stroke-width="3.12"/>
<line x1="1082.2" y1="581.2" x2="1063.5" y2="581.2" stroke="#111" stroke-width="3.12"/>
<line x1="1355.8" y1="581.2" x2="1374.5" y2="581.2" stroke="#111" stroke-width="3.12"/>
<line x1="1082.4" y1="625.6" x2="1063.6" y2="625.6" stroke="#111" stroke-width="3.12"/>
<line x1="1355.6" y1="625.6" x2="1374.4" y2="625.6" stroke="#111" stroke-width="3.12"/>
<line x1="1086.2" y1="642.4" x2="1067.0" y2="642.4" stroke="#111" stroke-width="3.12"/>
<line x1="1351.8" y1="642.4" x2="1371.0" y2="642.4" stroke="#111" stroke-width="3.12"/>
<line x1="1092.4" y1="659.2" x2="1072.4" y2="659.2" stroke="#111" stroke-width="3.12"/>
<line x1="1345.6" y1="659.2" x2="1365.6" y2="659.2" stroke="#111" stroke-width="3.12"/>
<line x1="1102.1" y1="677.2" x2="1080.6" y2="677.2" stroke="#111" stroke-width="3.12"/>
<line x1="1335.9" y1="677.2" x2="1357.4" y2="677.2" stroke="#111" stroke-width="3.12"/>
<line x1="1115.6" y1="695.2" x2="1091.9" y2="695.2" stroke="#111" stroke-width="3.12"/>
<line x1="1322.4" y1="695.2" x2="1346.1" y2="695.2" stroke="#111" stroke-width="3.12"/>
<line x1="1203.0" y1="740.6" x2="1203.0" y2="759.2" stroke="#111" stroke-width="3.12"/>
<line x1="1235.0" y1="740.6" x2="1235.0" y2="759.2" stroke="#111" stroke-width="3.12"/>
<line x1="1196.5" y1="739.7" x2="1196.5" y2="758.4" stroke="#111" stroke-width="3.12"/>
<line x1="1241.5" y1="739.7" x2="1241.5" y2="758.4" stroke="#111" stroke-width="3.12"/>
<line x1="1180.0" y1="735.9" x2="1180.0" y2="755.1" stroke="#111" stroke-width="3.12"/>
<line x1="1258.0" y1="735.9" x2="1258.0" y2="755.1" stroke="#111" stroke-width="3.12"/>
<line x1="1162.0" y1="729.2" x2="1162.0" y2="749.3" stroke="#111" stroke-width="3.12"/>
<line x1="1276.0" y1="729.2" x2="1276.0" y2="749.3" stroke="#111" stroke-width="3.12"/>
<line x1="1146.0" y1="720.7" x2="1146.0" y2="742.0" stroke="#111" stroke-width="3.12"/>
<line x1="1292.0" y1="720.7" x2="1292.0" y2="742.0" stroke="#111" stroke-width="3.12"/>
<path d="M1314.0,485.0 L1319.6,481.2 L1332.4,481.6 L1332.4,490.8 L1341.2,491.2 L1341.2,502.0 L1337.0,508.0 L1317.0,505.0 Z" fill="#fff" stroke="none"/>
<path d="M1319.6,481.2 L1332.4,481.6 L1332.4,490.8 L1341.2,491.2 L1341.2,502.0" fill="none" stroke="#111" stroke-width="3.38" stroke-linejoin="round" />
<path d="M1332.4,481.6 L1317.0,503.0" fill="none" stroke="#111" stroke-width="2.60" stroke-linejoin="round" />
<path d="M1341.2,491.2 L1319.0,505.0" fill="none" stroke="#111" stroke-width="2.60" stroke-linejoin="round" />
<path d="M1310.0,481.8 L1311.6,497.0" fill="none" stroke="#111" stroke-width="2.34" stroke-linejoin="round" />
<path d="M1340.4,506.8 L1340.4,522.0" fill="none" stroke="#111" stroke-width="2.34" stroke-linejoin="round" />
<path d="M1294.4,481.8 L1319.6,481.8" fill="none" stroke="#111" stroke-width="2.34" stroke-linejoin="round" />
<path d="M1326.0,511.6 L1340.4,510.8" fill="none" stroke="#111" stroke-width="2.34" stroke-linejoin="round" />
<path d="M1124.0,485.0 L1118.4,481.2 L1105.6,481.6 L1105.6,490.8 L1096.8,491.2 L1096.8,502.0 L1101.0,508.0 L1121.0,505.0 Z" fill="#fff" stroke="none"/>
<path d="M1118.4,481.2 L1105.6,481.6 L1105.6,490.8 L1096.8,491.2 L1096.8,502.0" fill="none" stroke="#111" stroke-width="3.38" stroke-linejoin="round" />
<path d="M1105.6,481.6 L1121.0,503.0" fill="none" stroke="#111" stroke-width="2.60" stroke-linejoin="round" />
<path d="M1096.8,491.2 L1119.0,505.0" fill="none" stroke="#111" stroke-width="2.60" stroke-linejoin="round" />
<path d="M1128.0,481.8 L1126.4,497.0" fill="none" stroke="#111" stroke-width="2.34" stroke-linejoin="round" />
<path d="M1097.6,506.8 L1097.6,522.0" fill="none" stroke="#111" stroke-width="2.34" stroke-linejoin="round" />
<path d="M1143.6,481.8 L1118.4,481.8" fill="none" stroke="#111" stroke-width="2.34" stroke-linejoin="round" />
<path d="M1112.0,511.6 L1097.6,510.8" fill="none" stroke="#111" stroke-width="2.34" stroke-linejoin="round" />
<path d="M1314.0,721.0 L1319.6,724.8 L1332.4,724.4 L1332.4,715.2 L1341.2,714.8 L1341.2,704.0 L1337.0,698.0 L1317.0,701.0 Z" fill="#fff" stroke="none"/>
<path d="M1319.6,724.8 L1332.4,724.4 L1332.4,715.2 L1341.2,714.8 L1341.2,704.0" fill="none" stroke="#111" stroke-width="3.38" stroke-linejoin="round" />
<path d="M1332.4,724.4 L1317.0,703.0" fill="none" stroke="#111" stroke-width="2.60" stroke-linejoin="round" />
<path d="M1341.2,714.8 L1319.0,701.0" fill="none" stroke="#111" stroke-width="2.60" stroke-linejoin="round" />
<path d="M1310.0,724.2 L1311.6,709.0" fill="none" stroke="#111" stroke-width="2.34" stroke-linejoin="round" />
<path d="M1340.4,699.2 L1340.4,684.0" fill="none" stroke="#111" stroke-width="2.34" stroke-linejoin="round" />
<path d="M1294.4,724.2 L1319.6,724.2" fill="none" stroke="#111" stroke-width="2.34" stroke-linejoin="round" />
<path d="M1326.0,694.4 L1340.4,695.2" fill="none" stroke="#111" stroke-width="2.34" stroke-linejoin="round" />
<path d="M1124.0,721.0 L1118.4,724.8 L1105.6,724.4 L1105.6,715.2 L1096.8,714.8 L1096.8,704.0 L1101.0,698.0 L1121.0,701.0 Z" fill="#fff" stroke="none"/>
<path d="M1118.4,724.8 L1105.6,724.4 L1105.6,715.2 L1096.8,714.8 L1096.8,704.0" fill="none" stroke="#111" stroke-width="3.38" stroke-linejoin="round" />
<path d="M1105.6,724.4 L1121.0,703.0" fill="none" stroke="#111" stroke-width="2.60" stroke-linejoin="round" />
<path d="M1096.8,714.8 L1119.0,701.0" fill="none" stroke="#111" stroke-width="2.60" stroke-linejoin="round" />
<path d="M1128.0,724.2 L1126.4,709.0" fill="none" stroke="#111" stroke-width="2.34" stroke-linejoin="round" />
<path d="M1097.6,699.2 L1097.6,684.0" fill="none" stroke="#111" stroke-width="2.34" stroke-linejoin="round" />
<path d="M1143.6,724.2 L1118.4,724.2" fill="none" stroke="#111" stroke-width="2.34" stroke-linejoin="round" />
<path d="M1112.0,694.4 L1097.6,695.2" fill="none" stroke="#111" stroke-width="2.34" stroke-linejoin="round" />
<rect x="1066.0" y="590" width="16" height="26" fill="#fff"/>
<path d="M1067.0,589 L1081.0,589 M1067.0,617 L1081.0,617" fill="none" stroke="#111" stroke-width="2.60" stroke-linejoin="round" />
<ellipse cx="1074.0" cy="603" rx="4.6" ry="6.5" fill="none" stroke="#111" stroke-width="3.2"/>
<rect x="1356.0" y="590" width="16" height="26" fill="#fff"/>
<path d="M1357.0,589 L1371.0,589 M1357.0,617 L1371.0,617" fill="none" stroke="#111" stroke-width="2.60" stroke-linejoin="round" />
<ellipse cx="1364.0" cy="603" rx="4.6" ry="6.5" fill="none" stroke="#111" stroke-width="3.2"/>
<rect x="1205" y="738" width="28" height="20" fill="#fff"/>
<path d="M1204,739 L1204,757 M1234,739 L1234,757" fill="none" stroke="#111" stroke-width="2.60" stroke-linejoin="round" />
<ellipse cx="1219" cy="748" rx="5.2" ry="6" fill="none" stroke="#111" stroke-width="3.2"/>
<path d="M1297.8,739.4 A157.5,157.5 0 0 1 1140.2,739.4" fill="none" stroke="#111" stroke-width="5.20"/>
<circle cx="1219.0" cy="603.0" r="125.0" fill="none" stroke="#111" stroke-width="2.86"/>
<circle cx="1219.0" cy="603.0" r="101.0" fill="none" stroke="#aaa" stroke-width="1.10"/>
<circle cx="1146.9" cy="530.9" r="6.0" fill="none" stroke="#111" stroke-width="3.12"/>
<line x1="1143.9" y1="530.9" x2="1149.9" y2="530.9" stroke="#111" stroke-width="1.20"/>
<line x1="1146.9" y1="527.9" x2="1146.9" y2="533.9" stroke="#111" stroke-width="1.20"/>
<circle cx="1291.1" cy="530.9" r="6.0" fill="none" stroke="#111" stroke-width="3.12"/>
<line x1="1288.1" y1="530.9" x2="1294.1" y2="530.9" stroke="#111" stroke-width="1.20"/>
<line x1="1291.1" y1="527.9" x2="1291.1" y2="533.9" stroke="#111" stroke-width="1.20"/>
<circle cx="1146.9" cy="675.1" r="6.0" fill="none" stroke="#111" stroke-width="3.12"/>
<line x1="1143.9" y1="675.1" x2="1149.9" y2="675.1" stroke="#111" stroke-width="1.20"/>
<line x1="1146.9" y1="672.1" x2="1146.9" y2="678.1" stroke="#111" stroke-width="1.20"/>
<circle cx="1291.1" cy="675.1" r="6.0" fill="none" stroke="#111" stroke-width="3.12"/>
<line x1="1288.1" y1="675.1" x2="1294.1" y2="675.1" stroke="#111" stroke-width="1.20"/>
<line x1="1291.1" y1="672.1" x2="1291.1" y2="678.1" stroke="#111" stroke-width="1.20"/>
<circle cx="1219.0" cy="603.0" r="85.0" fill="none" stroke="#111" stroke-width="2.99"/>
<circle cx="1219.0" cy="603.0" r="77.0" fill="none" stroke="#111" stroke-width="2.99"/>
<path d="M1183.3,557.3 A58,58 0 0 1 1254.7,557.3 L1247.9,572.5 A42,42 0 0 0 1190.1,572.5 Z" fill="none" stroke="#111" stroke-width="2.99" stroke-linejoin="round" />
<path d="M1185.0,557.9 Q1188.6,563.3 1191.0,561.5 A50,50 0 0 1 1247.0,561.5 Q1249.4,563.3 1253.0,557.9" fill="none" stroke="#111" stroke-width="2.99" stroke-linejoin="round" />
<path d="M1264.7,567.3 A58,58 0 0 1 1264.7,638.7 L1249.5,631.9 A42,42 0 0 0 1249.5,574.1 Z" fill="none" stroke="#111" stroke-width="2.99" stroke-linejoin="round" />
<path d="M1264.1,569.0 Q1258.7,572.6 1260.5,575.0 A50,50 0 0 1 1260.5,631.0 Q1258.7,633.4 1264.1,637.0" fill="none" stroke="#111" stroke-width="2.99" stroke-linejoin="round" />
<path d="M1254.7,648.7 A58,58 0 0 1 1183.3,648.7 L1190.1,633.5 A42,42 0 0 0 1247.9,633.5 Z" fill="none" stroke="#111" stroke-width="2.99" stroke-linejoin="round" />
<path d="M1253.0,648.1 Q1249.4,642.7 1247.0,644.5 A50,50 0 0 1 1191.0,644.5 Q1188.6,642.7 1185.0,648.1" fill="none" stroke="#111" stroke-width="2.99" stroke-linejoin="round" />
<path d="M1173.3,638.7 A58,58 0 0 1 1173.3,567.3 L1188.5,574.1 A42,42 0 0 0 1188.5,631.9 Z" fill="none" stroke="#111" stroke-width="2.99" stroke-linejoin="round" />
<path d="M1173.9,637.0 Q1179.3,633.4 1177.5,631.0 A50,50 0 0 1 1177.5,575.0 Q1179.3,572.6 1173.9,569.0" fill="none" stroke="#111" stroke-width="2.99" stroke-linejoin="round" />
<circle cx="1219.0" cy="603.0" r="34.0" fill="none" stroke="#111" stroke-width="2.99"/>
<circle cx="1219.0" cy="603.0" r="30.0" fill="none" stroke="#111" stroke-width="2.99"/>
<circle cx="1219.0" cy="603.0" r="22.0" fill="none" stroke="#111" stroke-width="4.68"/>
<circle cx="1219.0" cy="603.0" r="12.0" fill="none" stroke="#111" stroke-width="3.90"/>
<circle cx="1219.0" cy="603.0" r="5.6" fill="none" stroke="#333" stroke-width="1.50"/>
<path d="M1212,580.5 L1212,576.5 L1226,576.5 L1226,580.5" fill="none" stroke="#111" stroke-width="2.60" stroke-linejoin="round" />
<path d="M1213,625.5 L1219,630 L1225,625.5" fill="none" stroke="#111" stroke-width="2.60" stroke-linejoin="round" />
<line x1="1145.8" y1="442.5" x2="1145.8" y2="485.4" stroke="#111" stroke-width="3.12"/>
<line x1="1292.5" y1="442.5" x2="1292.5" y2="485.4" stroke="#111" stroke-width="3.12"/>
<path d="M1140,342.5 L1299.2,342.5 L1306.7,360 L1130,360 Z" fill="none" stroke="#111" stroke-width="2.60" stroke-linejoin="round" />
<path d="M1125,360 L1314.2,360 L1314.2,375 L1125,375 Z" fill="none" stroke="#111" stroke-width="2.60" stroke-linejoin="round" />
<line x1="1125.0" y1="370.0" x2="1314.2" y2="370.0" stroke="#111" stroke-width="2.60"/>
<line x1="1145.0" y1="351.7" x2="1145.0" y2="360.0" stroke="#111" stroke-width="1.50"/>
<line x1="1293.3" y1="351.7" x2="1293.3" y2="360.0" stroke="#111" stroke-width="1.50"/>
<path d="M1130,375 L1130,431.7 L1313.3,431.7 L1313.3,375" fill="none" stroke="#111" stroke-width="2.60" stroke-linejoin="round" />
<line x1="1310.0" y1="375.0" x2="1310.0" y2="431.7" stroke="#111" stroke-width="1.50"/>
<path d="M1130,431.7 L1140,442.5 L1298.3,442.5 L1305.8,431.7" fill="none" stroke="#111" stroke-width="2.60" stroke-linejoin="round" />
<path d="M1203,468 L1205,449 Q1206,447.5 1208,447.5 L1231,447.5 Q1233,447.5 1234,449 L1236,468" fill="#fff" stroke="#111" stroke-width="2.4"/>
<line x1="1207.5" y1="452.0" x2="1206.5" y2="467.0" stroke="#111" stroke-width="1.30"/>
<line x1="1231.5" y1="452.0" x2="1232.5" y2="467.0" stroke="#111" stroke-width="1.30"/>
<circle cx="1219.2" cy="459.2" r="4.2" fill="none" stroke="#111" stroke-width="3.38"/>
<path d="M1314,377.5 L1323.3,377.5 L1323.3,424.2 L1314,424.2" fill="none" stroke="#111" stroke-width="2.60" stroke-linejoin="round" />
<line x1="1314.0" y1="398.3" x2="1323.3" y2="398.3" stroke="#111" stroke-width="1.50"/>
<line x1="1314.0" y1="401.5" x2="1323.3" y2="401.5" stroke="#111" stroke-width="1.50"/>
<path d="M1325,380 Q1325,377.5 1328,377.5 L1344,377.5 Q1346.7,377.5 1346.7,380 L1346.7,423 Q1346.7,425.8 1344,425.8 L1328,425.8 Q1325,425.8 1325,423 Z" fill="#111"/>
<path d="M1346.7,380 L1352,380 Q1359.2,380 1359.2,388 L1359.2,413.7 Q1359.2,421.7 1352,421.7 L1346.7,421.7" fill="none" stroke="#111" stroke-width="2.60" stroke-linejoin="round" />
<line x1="1299.2" y1="342.6" x2="1462.4" y2="342.6" stroke="#111" stroke-width="1.50"/>
<line x1="1232.0" y1="603.0" x2="1462.4" y2="603.0" stroke="#111" stroke-width="1.50"/>
<line x1="1444.8" y1="342.6" x2="1444.8" y2="603.0" stroke="#111" stroke-width="1.50"/>
<path d="M1444.8,342.6 L1448.5,356.6 L1441.1,356.6 Z" fill="#111"/>
<path d="M1444.8,603.0 L1441.1,589.0 L1448.5,589.0 Z" fill="#111"/>
<text x="1437.8" y="490" font-size="26.7" fill="#111" text-anchor="start" transform="rotate(-90 1437.8 490)" textLength="32.5" lengthAdjust="spacingAndGlyphs" >AD</text>
<path d="M1040.7,464.2 L1105,464.2 L1142.4,524.4" fill="none" stroke="#111" stroke-width="1.40" stroke-linejoin="round" />
<path d="M1142.4,524.4 L1131.9,514.5 L1138.2,510.6 Z" fill="#111"/>
<text x="1042" y="456.5" font-size="26.7" fill="#111" text-anchor="start" >S</text>
<line x1="1131.2" y1="556.2" x2="1412.0" y2="708.0" stroke="#111" stroke-width="1.50"/>
<path d="M1131.2,556.2 L1145.3,559.5 L1141.8,566.1 Z" fill="#111"/>
<path d="M1309.5,651.5 L1295.4,648.1 L1298.9,641.6 Z" fill="#111"/>
<line x1="1412.0" y1="708.0" x2="1435.8" y2="708.0" stroke="#111" stroke-width="1.50"/>
<text x="1413" y="730.4" font-size="26.7" fill="#111" text-anchor="start" textLength="22.5" lengthAdjust="spacingAndGlyphs" >M</text>
<g>
<clipPath id="pc"><rect x="1200" y="20" width="250" height="64"/></clipPath>
<text clip-path="url(#pc)" x="1243.5" y="76.5" font-size="59" fill="#206a80" stroke="#206a80" stroke-width="2.2" textLength="154" lengthAdjust="spacingAndGlyphs" style="font-family:'Liberation Serif',serif">Pompe</text>
<text x="1350.5" y="120.1" font-size="50.5" fill="#206a80" stroke="#206a80" stroke-width="1.9" textLength="91" lengthAdjust="spacingAndGlyphs" style="font-family:'Liberation Serif',serif">Mote</text>
<path d="M1441,124.5 L1477.5,132.5 Q1481,133.5 1480.5,137 L1477,156 Q1476,159.5 1472.5,159 L1436,151 Q1432.5,150 1433,146.5 L1436.5,128 Q1437.5,124 1441,124.5 Z" fill="#ea901b"/>
<circle cx="1441.8" cy="145.8" r="1.3" fill="#fff"/>
<path d="M1339.5,106 C1339,115 1334,123 1327,127 C1320,131 1309,134 1304,128 C1299,122 1305,113 1320,107 C1331,102 1338,93 1333,88 C1329,84 1319,84 1314,90 C1309,96 1318,108 1330,119" fill="none" stroke="#123a52" stroke-width="6.2" stroke-linecap="round" stroke-linejoin="round"/>
<path d="M1327.8,121.2 L1329.4,122.7 L1331.0,124.2 L1332.6,125.7 L1334.2,127.2 L1336.0,128.8 L1337.7,130.3 L1339.5,131.8 L1341.3,133.3 L1343.1,134.9 L1345.0,136.4 L1346.9,137.9 L1348.9,139.4 L1350.9,140.8 L1353.0,142.3 L1355.1,143.7 L1357.2,145.1 L1359.4,146.5 L1361.6,147.8 L1363.8,149.1 L1366.1,150.4 L1368.5,151.7 L1370.8,152.9 L1373.3,154.0 L1375.7,155.2 L1378.2,156.2 L1380.8,157.3 L1383.4,158.2 L1386.0,159.1 L1388.7,160.0 L1391.5,160.8 L1394.4,161.5 L1397.2,162.2 L1400.1,162.7 L1403.0,163.1 L1405.9,163.5 L1408.8,163.8 L1411.7,164.0 L1414.6,164.1 L1417.5,164.1 L1420.4,164.1 L1423.3,163.9 L1426.1,163.7 L1429.0,163.5 L1431.8,163.1 L1434.7,162.7 L1437.5,162.3 L1440.3,161.7 L1443.0,161.1 L1445.8,160.5 L1448.5,159.8 L1451.2,159.0 L1453.9,158.2 L1456.6,157.3 L1459.2,156.4 L1461.8,155.4 L1464.3,154.4 L1466.9,153.4 L1469.4,152.3 L1471.8,151.1 L1474.2,150.0 L1473.8,149.0 L1471.4,150.1 L1468.9,151.2 L1466.4,152.2 L1463.9,153.2 L1461.3,154.1 L1458.7,154.9 L1456.1,155.8 L1453.4,156.5 L1450.8,157.3 L1448.1,157.9 L1445.4,158.5 L1442.6,159.1 L1439.9,159.6 L1437.1,160.0 L1434.3,160.4 L1431.6,160.7 L1428.8,160.9 L1426.0,161.1 L1423.2,161.2 L1420.4,161.2 L1417.5,161.2 L1414.7,161.1 L1411.9,160.9 L1409.1,160.6 L1406.3,160.2 L1403.5,159.8 L1400.8,159.3 L1398.0,158.7 L1395.3,158.0 L1392.5,157.2 L1389.9,156.3 L1387.3,155.4 L1384.8,154.5 L1382.3,153.4 L1379.9,152.4 L1377.5,151.3 L1375.2,150.1 L1372.9,148.9 L1370.6,147.7 L1368.4,146.4 L1366.2,145.1 L1364.1,143.7 L1362.0,142.4 L1360.0,141.0 L1357.9,139.5 L1356.0,138.1 L1354.0,136.6 L1352.1,135.2 L1350.3,133.7 L1348.5,132.1 L1346.7,130.6 L1344.9,129.1 L1343.2,127.5 L1341.5,126.0 L1339.9,124.5 L1338.3,122.9 L1336.7,121.4 L1335.2,119.8 L1333.7,118.3 L1332.2,116.8 Z" fill="#123a52"/>
</g>
</svg></body></html>
